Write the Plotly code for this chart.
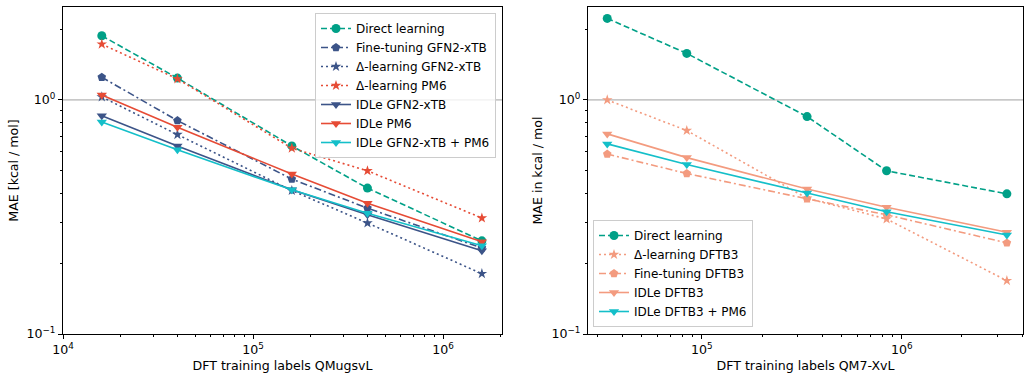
import plotly.graph_objects as go

# Training-set sizes (number of DFT labels)
qmugs_sizes = [16000, 40000, 160000, 400000, 1600000]
qm7x_sizes = [33600, 84000, 336000, 840000, 3360000]

# MAE in kcal/mol, QMugs panel
qmugs_direct = [1.88, 1.24, 0.636, 0.42, 0.25]
qmugs_ft_gfn2 = [1.25, 0.816, 0.459, 0.345, 0.233]
qmugs_delta_gfn2 = [1.03, 0.711, 0.41, 0.298, 0.181]
qmugs_delta_pm6 = [1.73, 1.23, 0.622, 0.498, 0.313]
qmugs_idle_gfn2 = [0.855, 0.636, 0.413, 0.323, 0.227]
qmugs_idle_pm6 = [1.05, 0.764, 0.483, 0.362, 0.248]
qmugs_idle_gfn2_pm6 = [0.805, 0.612, 0.413, 0.328, 0.238]

# MAE in kcal/mol, QM7-X panel
qm7x_direct = [2.23, 1.58, 0.849, 0.498, 0.397]
qm7x_delta_dftb3 = [1.0, 0.74, 0.38, 0.31, 0.169]
qm7x_ft_dftb3 = [0.587, 0.485, 0.378, 0.323, 0.245]
qm7x_idle_dftb3 = [0.716, 0.567, 0.416, 0.348, 0.272]
qm7x_idle_dftb3_pm6 = [0.649, 0.530, 0.40, 0.333, 0.265]

TEAL = "#00A087"
BLUE = "#3C5488"
RED = "#E64B35"
SALMON = "#F39B7F"
CYAN = "#14BFC9"

FONT = "DejaVu Sans"
FS = 12.6
LEG_FS = 12.0

fig = go.Figure()


def add(x, y, name, color, dash, symbol, size, xa, ya, legend):
    fig.add_trace(go.Scatter(
        x=x, y=y, name=name, mode="lines+markers",
        line=dict(color=color, dash=dash, width=1.6),
        marker=dict(symbol=symbol, size=size, color=color,
                    line=dict(width=0)),
        xaxis=xa, yaxis=ya, legend=legend,
    ))


dash_d = "6px,3px"
dashdot = "7px,3px,2px,3px"
dot = "2px,3px"

add(qmugs_sizes, qmugs_direct, "Direct learning", TEAL, dash_d, "circle", 9, "x", "y", "legend")
add(qmugs_sizes, qmugs_ft_gfn2, "Fine-tuning GFN2-xTB", BLUE, dashdot, "pentagon", 9, "x", "y", "legend")
add(qmugs_sizes, qmugs_delta_gfn2, "Δ-learning GFN2-xTB", BLUE, dot, "star", 8, "x", "y", "legend")
add(qmugs_sizes, qmugs_delta_pm6, "Δ-learning PM6", RED, dot, "star", 8, "x", "y", "legend")
add(qmugs_sizes, qmugs_idle_gfn2, "IDLe GFN2-xTB", BLUE, "solid", "triangle-down", 9, "x", "y", "legend")
add(qmugs_sizes, qmugs_idle_pm6, "IDLe PM6", RED, "solid", "triangle-down", 9, "x", "y", "legend")
add(qmugs_sizes, qmugs_idle_gfn2_pm6, "IDLe GFN2-xTB + PM6", CYAN, "solid", "triangle-down", 9, "x", "y", "legend")

add(qm7x_sizes, qm7x_direct, "Direct learning", TEAL, dash_d, "circle", 9, "x2", "y2", "legend2")
add(qm7x_sizes, qm7x_delta_dftb3, "Δ-learning DFTB3", SALMON, dot, "star", 8, "x2", "y2", "legend2")
add(qm7x_sizes, qm7x_ft_dftb3, "Fine-tuning DFTB3", SALMON, dashdot, "pentagon", 9, "x2", "y2", "legend2")
add(qm7x_sizes, qm7x_idle_dftb3, "IDLe DFTB3", SALMON, "solid", "triangle-down", 9, "x2", "y2", "legend2")
add(qm7x_sizes, qm7x_idle_dftb3_pm6, "IDLe DFTB3 + PM6", CYAN, "solid", "triangle-down", 9, "x2", "y2", "legend2")

W, H = 1027, 373
y_dom = [(H - 334) / H, (H - 7) / H]


def minor_vals(lo, hi):
    out = []
    for e in range(lo, hi + 1):
        for m in range(2, 10):
            out.append(m * 10 ** e)
    return out


axis_common = dict(
    type="log", showline=True, linecolor="black", linewidth=1, mirror=True,
    ticks="outside", ticklen=4, tickwidth=1, tickcolor="black",
    showgrid=False, zeroline=False, automargin=False,
    tickfont=dict(family=FONT, size=FS, color="black"),
    title_font=dict(family=FONT, size=FS, color="black"),
)
minor_common = dict(ticks="outside", ticklen=2, tickwidth=0.8, tickcolor="black", showgrid=False)

legend_common = dict(
    bgcolor="rgba(255,255,255,0.8)", bordercolor="#cccccc", borderwidth=1,
    font=dict(family=FONT, size=LEG_FS, color="black"), tracegroupgap=0,
    itemwidth=30,
)

fig.update_layout(
    width=W, height=H, margin=dict(l=0, r=0, t=0, b=0),
    paper_bgcolor="white", plot_bgcolor="white",
    font=dict(family=FONT, size=FS, color="black"),
    xaxis=dict(axis_common, domain=[63 / W, 502 / W], range=[4, 6.31],
               tickmode="array", tickvals=[1e4, 1e5, 1e6],
               ticktext=["10<sup>4</sup>", "10<sup>5</sup>", "10<sup>6</sup>"],
               minor=dict(minor_common, tickmode="array", tickvals=minor_vals(4, 6)),
               title=dict(text="DFT training labels QMugsvL", standoff=5), anchor="y"),
    yaxis=dict(axis_common, domain=y_dom, range=[-1, 0.397],
               tickmode="array", tickvals=[0.1, 1],
               ticktext=["10<sup>−1</sup>", "10<sup>0</sup>"],
               minor=dict(minor_common, tickmode="array", tickvals=minor_vals(-1, 0)),
               title=dict(text="MAE [kcal / mol]", standoff=5), anchor="x"),
    xaxis2=dict(axis_common, domain=[588 / W, 1023 / W], range=[4.43, 6.607],
                tickmode="array", tickvals=[1e5, 1e6],
                ticktext=["10<sup>5</sup>", "10<sup>6</sup>"],
                minor=dict(minor_common, tickmode="array", tickvals=minor_vals(4, 6)),
                title=dict(text="DFT training labels QM7-XvL", standoff=5), anchor="y2"),
    yaxis2=dict(axis_common, domain=y_dom, range=[-1, 0.397],
                tickmode="array", tickvals=[0.1, 1],
                ticktext=["10<sup>−1</sup>", "10<sup>0</sup>"],
                minor=dict(minor_common, tickmode="array", tickvals=minor_vals(-1, 0)),
                title=dict(text="MAE in kcal / mol", standoff=6), anchor="x2"),
    legend=dict(legend_common, x=496 / W, xanchor="right", y=(H - 13) / H, yanchor="top"),
    legend2=dict(legend_common, x=593 / W, xanchor="left", y=46 / H, yanchor="bottom"),
    showlegend=True,
)

# Reference line at MAE = 1 kcal/mol in both panels
for xa, ya in (("x", "y"), ("x2", "y2")):
    fig.add_shape(type="line", xref=f"{xa} domain", yref=ya, x0=0, x1=1, y0=1, y1=1,
                  line=dict(color="#a0a0a0", width=1), layer="below")

fig.write_html("out.html")
